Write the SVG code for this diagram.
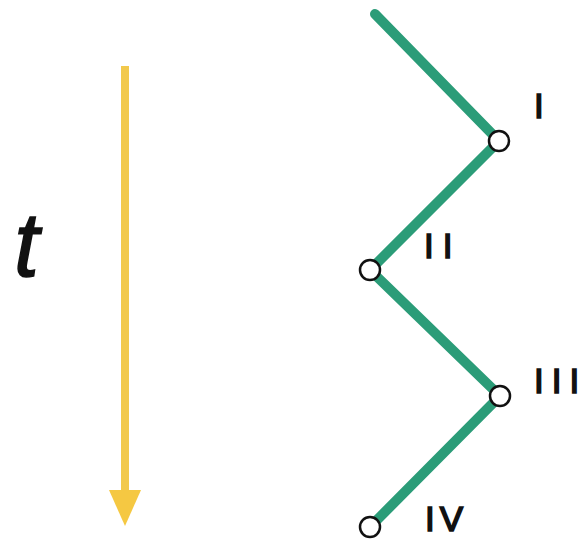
<svg xmlns="http://www.w3.org/2000/svg" width="584" height="543" viewBox="0 0 584 543">
<style>
.lbl{font-family:"Liberation Sans",Arial,sans-serif;font-size:35px;fill:#111;stroke:#111;stroke-width:1.6}
.node{fill:#fff;stroke:#111;stroke-width:2.5}
.edge{stroke:#2b9c78;stroke-width:10;stroke-linecap:round;fill:none}
</style>
<rect width="584" height="543" fill="#fff"/>
<g id="time-axis">
<line x1="125" y1="66" x2="125" y2="495" stroke="#f2c94c" stroke-width="8"/>
<polygon points="109,490 141,490 125,526" fill="#f5c842"/>
<text x="14" y="276" font-family="Liberation Sans,Arial,sans-serif" font-style="italic" font-size="90" fill="#111" stroke="#111" stroke-width="1.5">t</text>
</g>
<g id="connectors">
<polyline class="edge" points="375,14 499,141 370,270 500,396 370,527"/>
</g>
<g id="node-I"><circle class="node" cx="499" cy="141" r="10"/><text class="lbl" x="534" y="118">I</text></g>
<g id="node-II"><circle class="node" cx="370" cy="270" r="10"/><text class="lbl" x="424" y="258">I<tspan dx="9">I</tspan></text></g>
<g id="node-III"><circle class="node" cx="500" cy="396" r="10"/><text class="lbl" x="534" y="393">I<tspan dx="8">I</tspan><tspan dx="8">I</tspan></text></g>
<g id="node-IV"><circle class="node" cx="370" cy="527" r="10"/><text class="lbl" x="425" y="531">I<tspan dx="5">V</tspan></text></g>
</svg>
